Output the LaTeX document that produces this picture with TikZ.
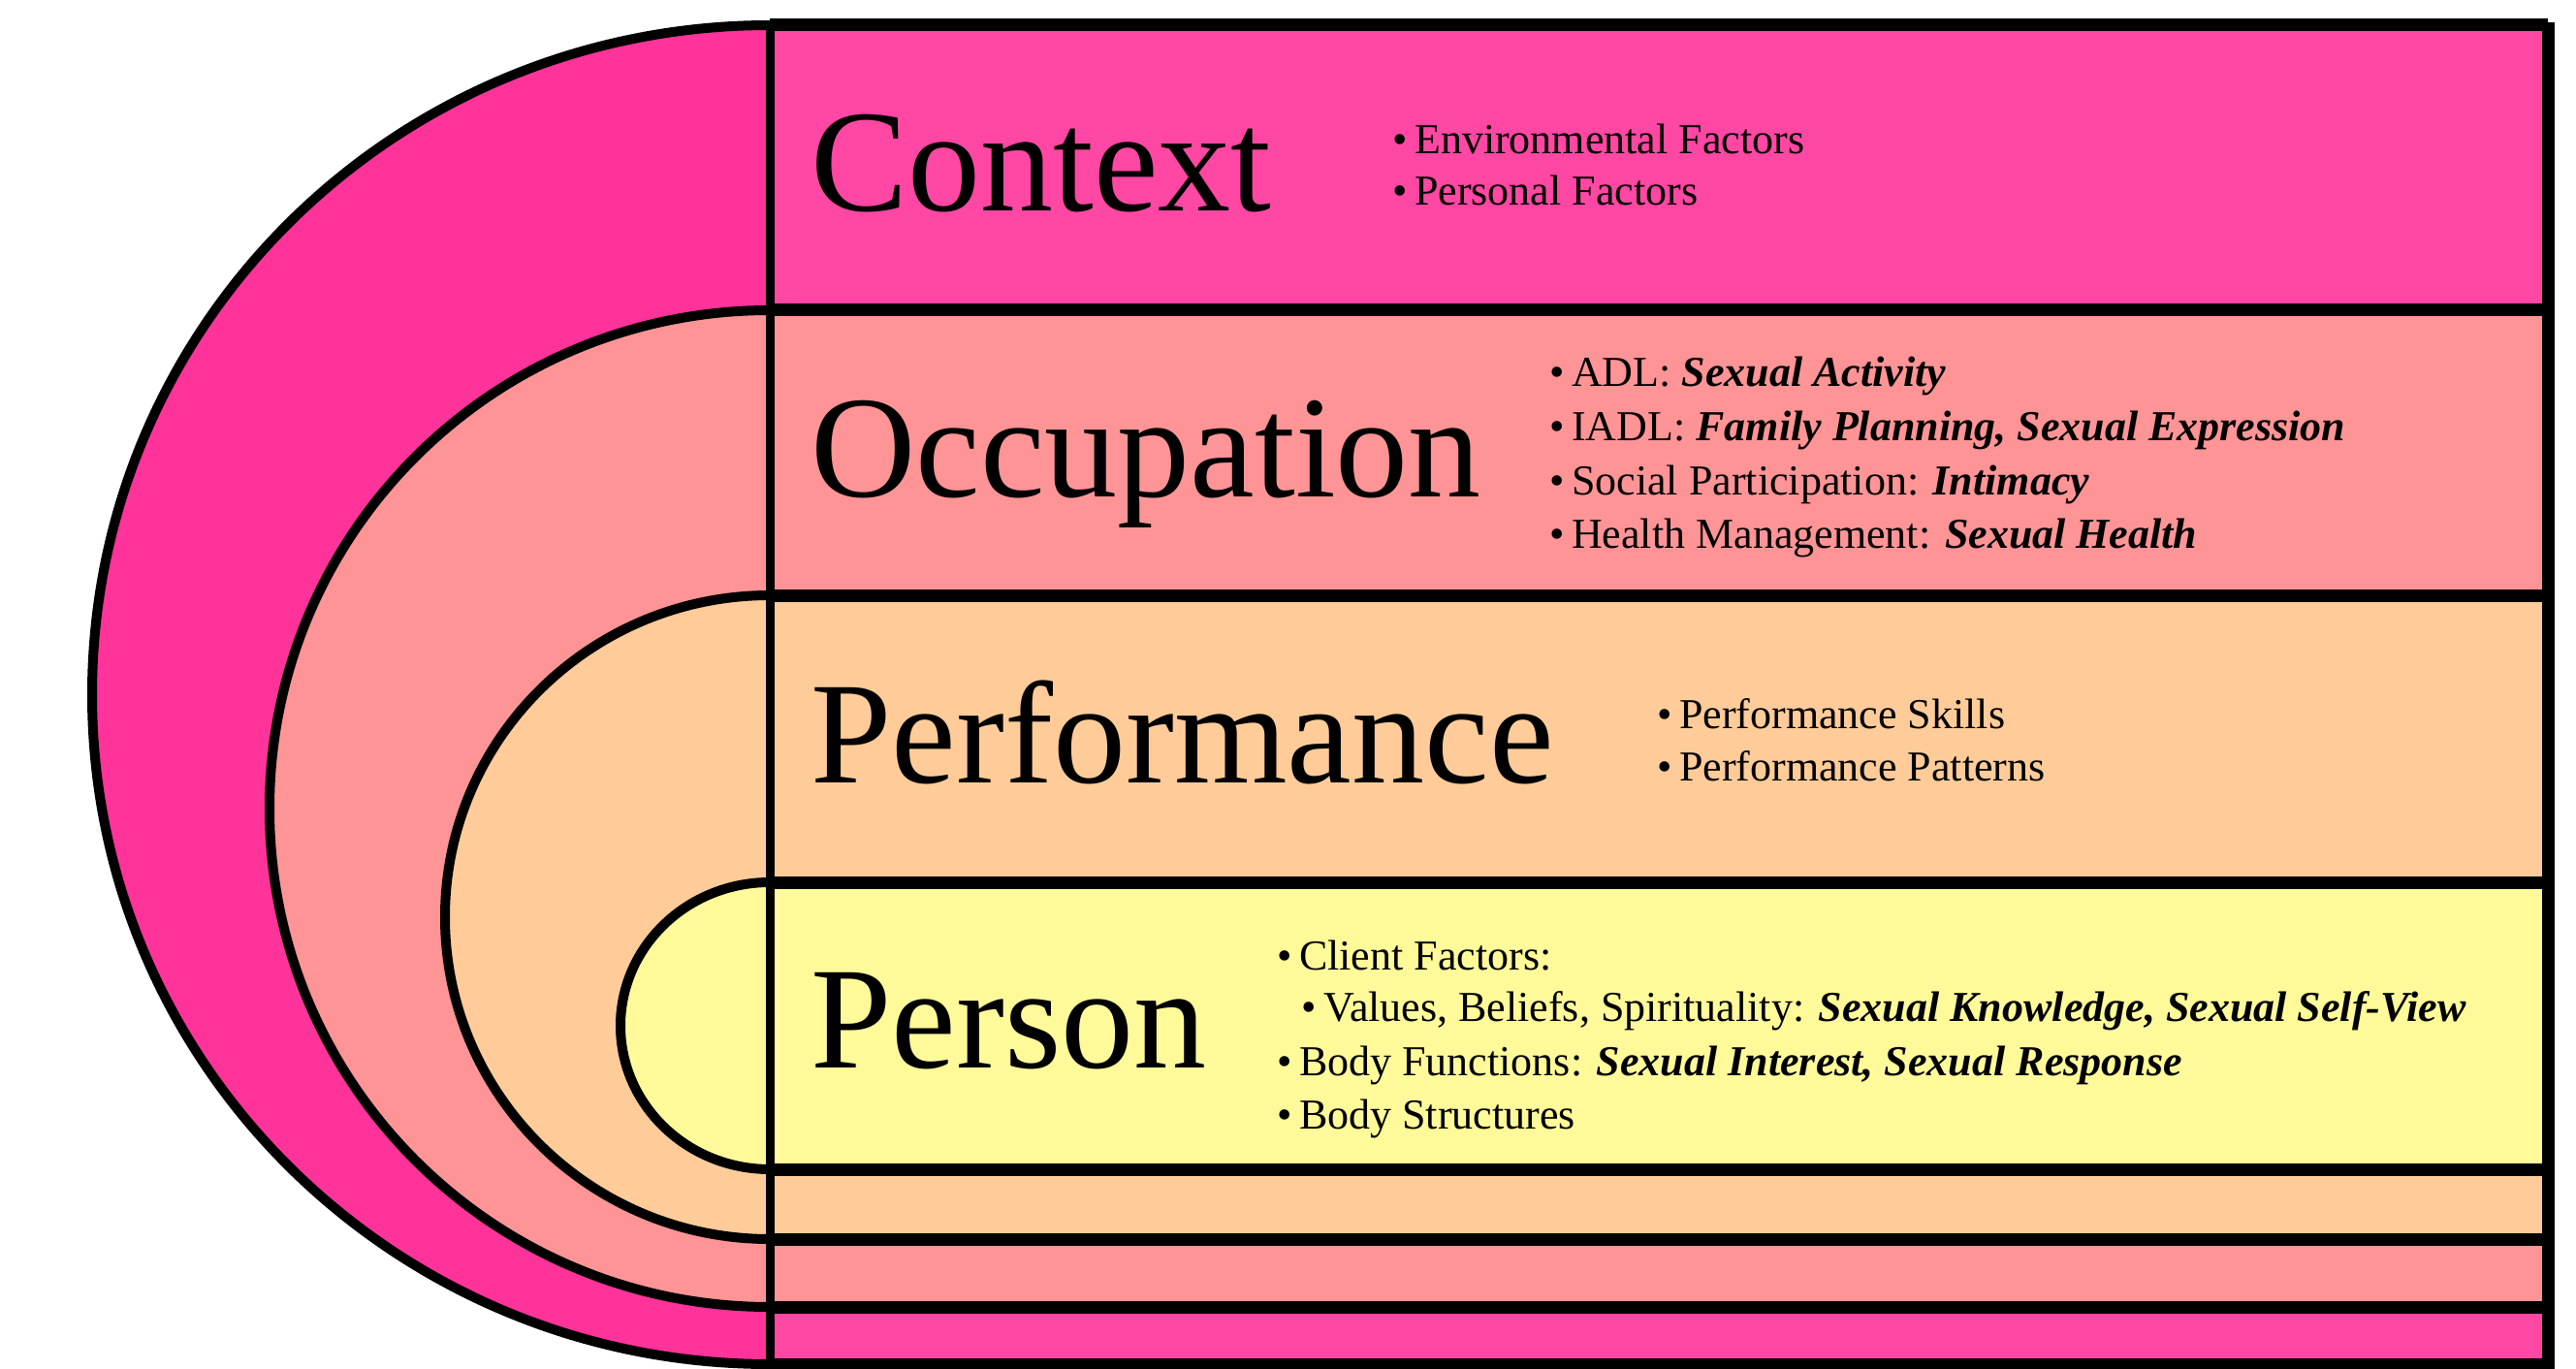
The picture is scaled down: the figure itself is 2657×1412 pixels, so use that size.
\documentclass[tikz,border=0pt]{standalone}
\usepackage{fontspec}
\setmainfont{Liberation Serif}
\definecolor{ctxL}{RGB}{255,51,153}
\definecolor{ctxR}{RGB}{255,71,163}
\definecolor{occC}{RGB}{255,148,150}
\definecolor{perfC}{RGB}{255,204,153}
\definecolor{persC}{RGB}{255,250,153}
\newcommand{\bi}[1]{\textbf{\textit{#1}}}
\tikzset{
  biglbl/.style={anchor=base west, inner sep=0pt, font=\fontsize{75}{80}\selectfont},
  itemtxt/.style={anchor=base west, inner sep=0pt, font=\fontsize{22}{26}\selectfont},
  hline/.style={line width=6.5pt},
  arcline/.style={line width=5pt},
  vline/.style={line width=4.5pt},
}
\begin{document}
\begin{tikzpicture}[x=0.5pt,y=-0.5pt]
\useasboundingbox (0,0) rectangle (2657,1412);
% left half-discs
\fill[ctxL] (794,26) arc[start angle=270,end angle=90,x radius=699,y radius=690.5] -- cycle;
\fill[occC] (794,320) arc[start angle=270,end angle=90,x radius=516,y radius=514] -- cycle;
\fill[perfC] (794,614) arc[start angle=270,end angle=90,x radius=335,y radius=332] -- cycle;
\fill[persC] (794,910) arc[start angle=270,end angle=90,x radius=154,y radius=148] -- cycle;
% right bands
\fill[ctxR] (794,26) rectangle (2628,320);
\fill[occC] (794,320) rectangle (2628,614);
\fill[perfC] (794,614) rectangle (2628,910);
\fill[persC] (794,910) rectangle (2628,1206);
\fill[perfC] (794,1206) rectangle (2628,1278);
\fill[occC] (794,1278) rectangle (2628,1348);
\fill[ctxR] (794,1348) rectangle (2628,1407);
% arcs
\draw[arcline] (794,26) arc[start angle=270,end angle=90,x radius=699,y radius=690.5];
\draw[arcline] (794,320) arc[start angle=270,end angle=90,x radius=516,y radius=514];
\draw[arcline] (794,614) arc[start angle=270,end angle=90,x radius=335,y radius=332];
\draw[arcline] (794,910) arc[start angle=270,end angle=90,x radius=154,y radius=148];
% horizontal lines
\foreach \yy in {26,320,614,910,1206,1278,1348,1407}
  \draw[hline] (794,\yy) -- (2628,\yy);
% vertical lines
\draw[vline] (794,26) -- (794,1412);
\draw[hline] (2628,23) -- (2628,1412);
% labels
\node[biglbl] (ctx) at (836,218) {Context};
\node[biglbl] (occ) at (836,512) {Occupation};
\node[biglbl] (perf) at (836,807) {Performance};
\node[biglbl] (pers) at (836,1101) {Person};
% items
\node[itemtxt] (c1) at (1436,159) {•\,Environmental Factors};
\node[itemtxt] (c2) at (1436,212) {•\,Personal Factors};
\node[itemtxt] (o1) at (1598,399) {•\,ADL: \bi{Sexual Activity}};
\node[itemtxt] (o2) at (1598,454) {•\,IADL: \bi{Family Planning, Sexual Expression}};
\node[itemtxt] (o3) at (1598,510) {•\,Social Participation: \bi{Intimacy}};
\node[itemtxt] (o4) at (1598,565) {•\,Health Management: \bi{Sexual Health}};
\node[itemtxt] (p1) at (1709,751) {•\,Performance Skills};
\node[itemtxt] (p2) at (1709,805) {•\,Performance Patterns};
\node[itemtxt] (q1) at (1317,1000) {•\,Client Factors:};
\node[itemtxt] (q2) at (1342,1053) {•\,Values, Beliefs, Spirituality: \bi{Sexual Knowledge, Sexual Self-View}};
\node[itemtxt] (q3) at (1317,1109) {•\,Body Functions: \bi{Sexual Interest, Sexual Response}};
\node[itemtxt] (q4) at (1317,1164) {•\,Body Structures};
\end{tikzpicture}
\end{document}
